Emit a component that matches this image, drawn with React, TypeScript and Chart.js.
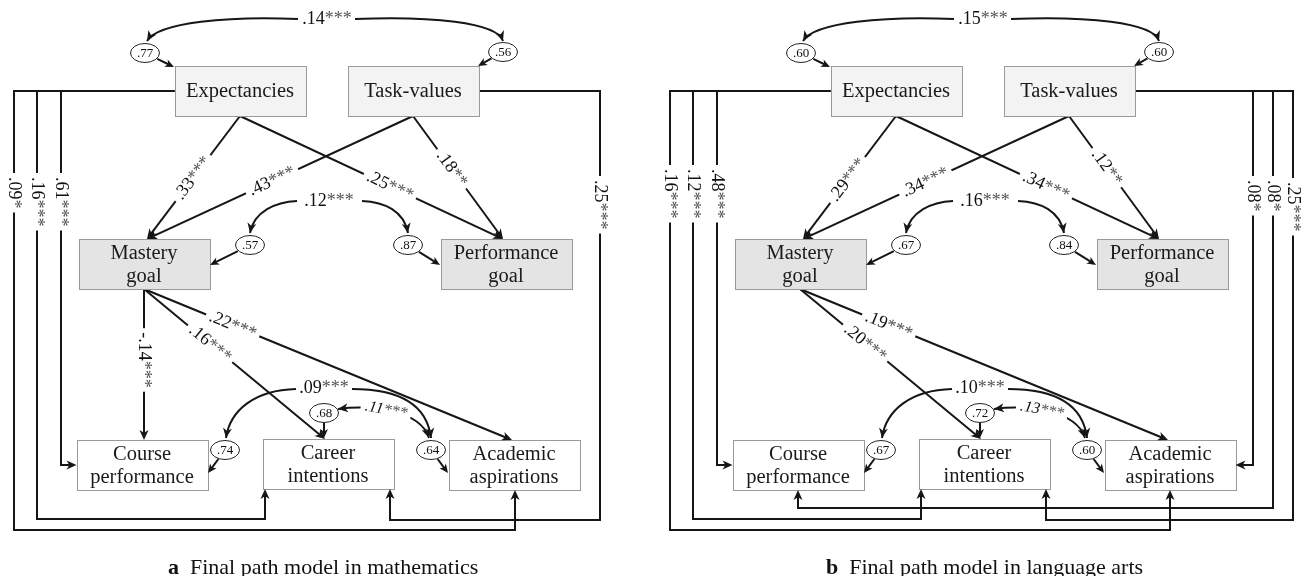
import React, { useEffect, useRef } from "react";
import { Chart, registerables } from "chart.js";
Chart.register(...registerables);

// ---------------- data ----------------
const NODE_LINES: string[][] = [
  ["Expectancies"],
  ["Task-values"],
  ["Mastery", "goal"],
  ["Performance", "goal"],
  ["Course", "performance"],
  ["Career", "intentions"],
  ["Academic", "aspirations"],
];
const CAPTION_TAGS = ["a", "b"];
const CAPTION_TEXTS = ["Final path model in mathematics", "Final path model in language arts"];

// residual variances (one per node)
const MATH_RESIDUALS = [".77", ".56", ".57", ".87", ".74", ".68", ".64"];
const LANG_RESIDUALS = [".60", ".60", ".67", ".84", ".67", ".72", ".60"];

// covariances: expectancies-task values, goals, course-academic, career-academic
const MATH_COVS = [".14***", ".12***", ".09***", ".11***"];
const LANG_COVS = [".15***", ".16***", ".10***", ".13***"];

// direct paths [from, to, coefficient]
const MATH_PATHS: [number, number, string][] = [
  [0, 2, ".33***"], [0, 3, ".25***"], [1, 2, ".43***"], [1, 3, ".18**"],
  [2, 4, "-.14***"], [2, 5, ".16***"], [2, 6, ".22***"],
];
const LANG_PATHS: [number, number, string][] = [
  [0, 2, ".29***"], [0, 3, ".34***"], [1, 2, ".34***"], [1, 3, ".12**"],
  [2, 5, ".20***"], [2, 6, ".19***"],
];

// paths routed around the frame [from, to, coefficient]
const MATH_ROUTED: [number, number, string][] = [
  [0, 6, ".09*"], [0, 5, ".16***"], [0, 4, ".61***"], [1, 5, ".25***"],
];
const LANG_ROUTED: [number, number, string][] = [
  [0, 6, ".16***"], [0, 5, ".12***"], [0, 4, ".48***"],
  [1, 6, ".08*"], [1, 4, ".08*"], [1, 5, ".25***"],
];

// ---------------- layout (panel-local units) ----------------
const W = 1302, H = 576;
const PANEL_DX = [0, 656];
const FONT = '"Liberation Serif", "Times New Roman", serif';
const INK = "#161616";
const BOX_W = 131, BOX_H = 50;
const NODE_POS: [number, number][] = [[240, 91], [413, 91], [144, 264], [506, 264], [142, 465], [328, 464], [514, 465]];
const NODE_FILL = ["#f3f3f3", "#f3f3f3", "#e4e4e4", "#e4e4e4", "#ffffff", "#ffffff", "#ffffff"];
const IN_DX = [0, 0, 3, -3, 2, -3, -2];
const MATH_PATH_T = [0.505, 0.57, 0.53, 0.43, 0.47, 0.365, 0.241];
const LANG_PATH_T = [0.52, 0.57, 0.54, 0.42, 0.36, 0.241];

type RouteLayout = { lane: number; turn: number; entry: "bottom" | "left" | "right"; ex: number; ly: number };
const MATH_ROUTE_LAYOUT: RouteLayout[] = [
  { lane: 14, turn: 530, entry: "bottom", ex: 515, ly: 177 },
  { lane: 37, turn: 519, entry: "bottom", ex: 265, ly: 177 },
  { lane: 61, turn: 465, entry: "left", ex: 0, ly: 177 },
  { lane: 600, turn: 520, entry: "bottom", ex: 390, ly: 180 },
];
const LANG_ROUTE_LAYOUT: RouteLayout[] = [
  { lane: 14, turn: 530, entry: "bottom", ex: 514, ly: 169 },
  { lane: 37, turn: 519, entry: "bottom", ex: 265, ly: 169 },
  { lane: 61, turn: 465, entry: "left", ex: 0, ly: 169 },
  { lane: 597, turn: 465, entry: "right", ex: 0, ly: 180 },
  { lane: 617, turn: 508, entry: "bottom", ex: 142, ly: 180 },
  { lane: 637, turn: 520, entry: "bottom", ex: 390, ly: 182 },
];

const RES_POS: [number, number][] = [[145, 53], [503, 52], [250, 245], [408, 245], [225, 450], [324, 413], [431, 450]];
const RES_TARGET: [number, number][] = [[174, 67], [478, 66], [210, 265], [440, 265], [208, 473], [324, 438], [448, 473]];

type P = [number, number];
const COV_LABEL_POS: P[] = [[327, 19], [329, 201], [324, 388]];
const COV_CURVES: P[][][] = [
  [[[298, 19], [230, 16], [158, 22], [147, 41]], [[355, 19], [430, 16], [497, 22], [503, 41]]],
  [[[297, 201], [276, 202], [254, 211], [250, 233]], [[362, 201], [385, 202], [404, 211], [408, 233]]],
  [[[296, 389], [255, 390], [230, 410], [226, 438]], [[352, 389], [400, 389], [427, 405], [431, 438]]],
];
const COV_PAIR_CURVE: P[] = [[338, 409], [368, 405], [420, 409], [429, 438]];

const PANELS = [
  { residuals: MATH_RESIDUALS, covs: MATH_COVS, paths: MATH_PATHS, pathT: MATH_PATH_T, routed: MATH_ROUTED, routes: MATH_ROUTE_LAYOUT },
  { residuals: LANG_RESIDUALS, covs: LANG_COVS, paths: LANG_PATHS, pathT: LANG_PATH_T, routed: LANG_ROUTED, routes: LANG_ROUTE_LAYOUT },
];

// ---------------- geometry helpers ----------------
function box(i: number, dx: number) {
  const [cx, cy] = NODE_POS[i];
  return { l: cx - BOX_W / 2 + dx, r: cx + BOX_W / 2 + dx, t: cy - BOX_H / 2, b: cy + BOX_H / 2, cx: cx + dx, cy };
}
function pathEnds(from: number, to: number, dx: number) {
  const s = box(from, dx), d = box(to, dx);
  return { s: { x: s.cx, y: s.b }, e: { x: d.cx + IN_DX[to], y: d.t } };
}
function routePoints(from: number, to: number, r: RouteLayout, dx: number) {
  const s = box(from, dx), d = box(to, dx);
  const pts = [{ x: from === 0 ? s.l : s.r, y: s.cy }, { x: r.lane + dx, y: s.cy }, { x: r.lane + dx, y: r.turn }];
  if (r.entry === "bottom") { pts.push({ x: r.ex + dx, y: r.turn }); pts.push({ x: r.ex + dx, y: d.b }); }
  else if (r.entry === "left") pts.push({ x: d.l, y: r.turn });
  else pts.push({ x: d.r, y: r.turn });
  return pts;
}
function shorten(pts: { x: number; y: number }[], by: number) {
  const out = pts.map((p) => ({ ...p }));
  const a = out[out.length - 2], b = out[out.length - 1];
  const L = Math.hypot(b.x - a.x, b.y - a.y);
  b.x -= ((b.x - a.x) / L) * by; b.y -= ((b.y - a.y) / L) * by;
  return out;
}
function bez(p: P[], t: number): P {
  const u = 1 - t;
  return [
    u * u * u * p[0][0] + 3 * u * u * t * p[1][0] + 3 * u * t * t * p[2][0] + t * t * t * p[3][0],
    u * u * u * p[0][1] + 3 * u * u * t * p[1][1] + 3 * u * t * t * p[2][1] + t * t * t * p[3][1],
  ];
}
function bezTan(p: P[], t: number): number {
  const a = bez(p, Math.max(0, t - 0.01)), b = bez(p, Math.min(1, t + 0.01));
  return Math.atan2(b[1] - a[1], b[0] - a[0]);
}

function buildDatasets() {
  const ds: any[] = [];
  const base = { showLine: true, pointRadius: 0, borderColor: INK, borderWidth: 2, fill: false, tension: 0, borderJoinStyle: "miter" };
  PANELS.forEach((pn, k) => {
    const dx = PANEL_DX[k];
    pn.paths.forEach(([f, t]) => {
      const { s, e } = pathEnds(f, t, dx);
      ds.push({ ...base, data: shorten([s, e], 4) });
    });
    pn.routed.forEach(([f, t], i) => {
      ds.push({ ...base, data: shorten(routePoints(f, t, pn.routes[i], dx), 4) });
    });
  });
  return ds;
}

// ---------------- drawing helpers ----------------
function arrowHead(ctx: CanvasRenderingContext2D, x: number, y: number, ang: number, len = 10, half = 4.5) {
  ctx.save();
  ctx.translate(x, y);
  ctx.rotate(ang);
  ctx.beginPath();
  ctx.moveTo(0, 0);
  ctx.lineTo(-len, -half);
  ctx.lineTo(-len * 0.72, 0);
  ctx.lineTo(-len, half);
  ctx.closePath();
  ctx.fillStyle = INK;
  ctx.fill();
  ctx.restore();
}
function coef(ctx: CanvasRenderingContext2D, text: string, x: number, y: number, ang: number, size: number, opts: { italic?: boolean; bg?: boolean; start?: boolean } = {}) {
  const m = text.match(/^([^*]*)(\**)$/) || [text, text, ""];
  const num = m[1], stars = m[2];
  ctx.save();
  ctx.font = `${opts.italic ? "italic " : ""}${size}px ${FONT}`;
  const wn = ctx.measureText(num).width, ws = ctx.measureText(stars).width;
  const w = wn + ws;
  ctx.translate(x, y);
  ctx.rotate(ang);
  const x0 = opts.start ? 0 : -w / 2;
  if (opts.bg) {
    ctx.fillStyle = "#ffffff";
    ctx.fillRect(x0 - 4, -6, w + 8, 12);
  }
  ctx.textBaseline = "middle";
  ctx.textAlign = "left";
  ctx.fillStyle = "#111";
  ctx.fillText(num, x0, 0);
  ctx.fillStyle = "#555";
  ctx.fillText(stars, x0 + wn, 0);
  ctx.restore();
}

const diagramPlugin = {
  id: "pathDiagram",
  afterDatasetsDraw(chart: any) {
    const ctx: CanvasRenderingContext2D = chart.ctx;
    const xs = chart.scales.x, ys = chart.scales.y;
    const X = (v: number) => xs.getPixelForValue(v);
    const Y = (v: number) => ys.getPixelForValue(v);
    const curve = (p: P[], dx: number) => {
      ctx.beginPath();
      ctx.moveTo(X(p[0][0] + dx), Y(p[0][1]));
      ctx.bezierCurveTo(X(p[1][0] + dx), Y(p[1][1]), X(p[2][0] + dx), Y(p[2][1]), X(p[3][0] + dx), Y(p[3][1]));
      ctx.strokeStyle = INK;
      ctx.lineWidth = 2;
      ctx.stroke();
    };

    PANELS.forEach((pn, k) => {
      const dx = PANEL_DX[k];
      // boxes
      NODE_LINES.forEach((lines, i) => {
        const b = box(i, dx);
        const l = Math.round(X(b.l)) + 0.5, t = Math.round(Y(b.t)) + 0.5;
        const w = Math.round(X(b.r) - X(b.l)), h = Math.round(Y(b.b) - Y(b.t));
        ctx.fillStyle = NODE_FILL[i];
        ctx.fillRect(l, t, w, h);
        ctx.strokeStyle = "#9a9a9a";
        ctx.lineWidth = 1;
        ctx.strokeRect(l, t, w, h);
        ctx.fillStyle = "#1a1a1a";
        ctx.font = `20.5px ${FONT}`;
        ctx.textAlign = "center";
        ctx.textBaseline = "middle";
        const lh = 23;
        lines.forEach((ln, j) => {
          ctx.fillText(ln, X(b.cx), Y(b.cy - ((lines.length - 1) * lh) / 2 + j * lh + 1));
        });
      });

      // arrowheads on direct paths and labels
      pn.paths.forEach(([f, t, lab], i) => {
        const { s, e } = pathEnds(f, t, dx);
        const ang = Math.atan2(Y(e.y) - Y(s.y), X(e.x) - X(s.x));
        arrowHead(ctx, X(e.x), Y(e.y), ang);
        const tt = pn.pathT[i];
        const lx = s.x + (e.x - s.x) * tt, ly = s.y + (e.y - s.y) * tt;
        let la = ang;
        if (la > Math.PI / 2 + 0.1) la -= Math.PI;
        if (la < -Math.PI / 2 + 0.1) la += Math.PI;
        coef(ctx, lab, X(lx), Y(ly), la, 18, { bg: true });
      });

      // routed paths: arrowheads and lane labels
      pn.routed.forEach(([f, t, lab], i) => {
        const r = pn.routes[i];
        const pts = routePoints(f, t, r, dx);
        const a = pts[pts.length - 2], b = pts[pts.length - 1];
        arrowHead(ctx, X(b.x), Y(b.y), Math.atan2(Y(b.y) - Y(a.y), X(b.x) - X(a.x)));
        coef(ctx, lab, X(r.lane + dx), Y(r.ly), Math.PI / 2, 18, { bg: true, start: true });
      });

      // residual ellipses
      pn.residuals.forEach((lab, i) => {
        const [cx, cy] = RES_POS[i];
        const [tx, ty] = RES_TARGET[i];
        const rx = 14.5, ry = 9.5;
        const ddx = tx - cx, ddy = ty - cy;
        const tE = 1 / Math.sqrt((ddx / rx) ** 2 + (ddy / ry) ** 2);
        const sx = cx + ddx * tE * 1.05, sy = cy + ddy * tE * 1.05;
        const ang = Math.atan2(ddy, ddx);
        ctx.beginPath();
        ctx.moveTo(X(sx + dx), Y(sy));
        ctx.lineTo(X(tx + dx) - Math.cos(ang) * 4, Y(ty) - Math.sin(ang) * 4);
        ctx.strokeStyle = INK;
        ctx.lineWidth = 2;
        ctx.stroke();
        arrowHead(ctx, X(tx + dx), Y(ty), ang, 9, 4);
        ctx.beginPath();
        ctx.ellipse(X(cx + dx), Y(cy), rx, ry, 0, 0, Math.PI * 2);
        ctx.fillStyle = "#fff";
        ctx.fill();
        ctx.strokeStyle = "#222";
        ctx.lineWidth = 1;
        ctx.stroke();
        ctx.fillStyle = "#111";
        ctx.font = `13px ${FONT}`;
        ctx.textAlign = "center";
        ctx.textBaseline = "middle";
        ctx.fillText(lab, X(cx + dx), Y(cy + 0.5));
      });

      // covariance curves
      COV_CURVES.forEach((pair, c) => {
        pair.forEach((p) => {
          curve(p, dx);
          const end = p[3];
          arrowHead(ctx, X(end[0] + dx), Y(end[1]), bezTan(p, 1), 10, 4.5);
        });
        const [lx, ly] = COV_LABEL_POS[c];
        coef(ctx, pn.covs[c], X(lx + dx), Y(ly), 0, 18);
      });
      // career-academic covariance (double headed)
      curve(COV_PAIR_CURVE, dx);
      arrowHead(ctx, X(COV_PAIR_CURVE[3][0] + dx), Y(COV_PAIR_CURVE[3][1]), bezTan(COV_PAIR_CURVE, 1), 10, 4.5);
      arrowHead(ctx, X(COV_PAIR_CURVE[0][0] + dx), Y(COV_PAIR_CURVE[0][1]), bezTan(COV_PAIR_CURVE, 0) + Math.PI, 10, 4.5);
      const mid = bez(COV_PAIR_CURVE, 0.45);
      coef(ctx, pn.covs[3], X(mid[0] + dx), Y(mid[1]), bezTan(COV_PAIR_CURVE, 0.45), 16, { italic: true, bg: true });

      // caption
      const capX = [168, 826][k];
      ctx.textAlign = "left";
      ctx.textBaseline = "alphabetic";
      ctx.fillStyle = "#111";
      ctx.font = `bold 22px ${FONT}`;
      ctx.fillText(CAPTION_TAGS[k], capX, 574);
      const wt = ctx.measureText(CAPTION_TAGS[k]).width;
      ctx.font = `22px ${FONT}`;
      ctx.fillText(CAPTION_TEXTS[k], capX + wt + 11, 574);
    });
  },
};

export default function App() {
  const ref = useRef<HTMLCanvasElement>(null);
  useEffect(() => {
    document.body.style.margin = "0";
    const canvas = ref.current!;
    const chart = new Chart(canvas, {
      type: "scatter",
      data: { datasets: buildDatasets() },
      options: {
        animation: false,
        responsive: false,
        devicePixelRatio: 1,
        events: [],
        layout: { padding: 0 },
        plugins: { legend: { display: false }, tooltip: { enabled: false } },
        scales: {
          x: { type: "linear", min: 0, max: W, display: false },
          y: { type: "linear", min: 0, max: H, reverse: true, display: false },
        },
      } as any,
      plugins: [diagramPlugin as any],
    });
    return () => chart.destroy();
  }, []);
  return <canvas ref={ref} width={W} height={H} style={{ display: "block", width: W, height: H, background: "#fff" }} />;
}
